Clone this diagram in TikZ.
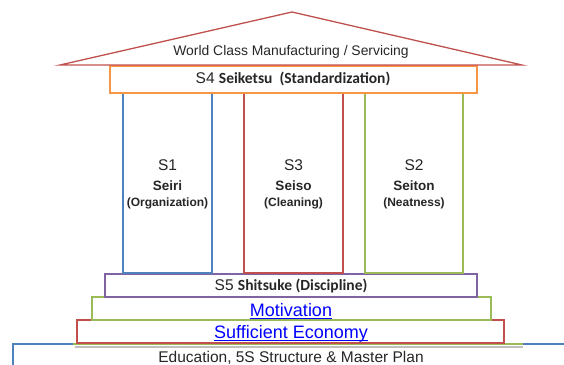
\documentclass[tikz,border=0pt]{standalone}
\usepackage{fontspec}
\setmainfont{Liberation Sans}
\newfontfamily\calib{Carlito}
\definecolor{roofred}{HTML}{C0504D}
\definecolor{orng}{HTML}{F79646}
\definecolor{blu}{HTML}{4F81BD}
\definecolor{grn}{HTML}{9BBB59}
\definecolor{purp}{HTML}{8064A2}
\definecolor{linkblue}{HTML}{0000FF}
\begin{document}
\begin{tikzpicture}[x=1pt,y=-1pt,
  box/.style={line width=1.3pt,fill=white},
  txt/.style={inner sep=0pt,text=black!85},
  snum/.style={txt,font=\fontsize{15.5}{15.5}\selectfont},
  sname/.style={txt,font=\fontsize{13.5}{13.5}\selectfont\bfseries},
  smean/.style={txt,font=\fontsize{12}{12}\selectfont\bfseries},
  link/.style={inner sep=0pt,anchor=base,font=\fontsize{18}{18}\selectfont,text=linkblue},
  uline/.style={linkblue,line width=1.1pt}]
\useasboundingbox (0,0) rectangle (564,364);
% base
\draw[blu,line width=1.3pt] (13,370) -- (13,344) -- (570,344);
\draw[gray!50,line width=2pt] (75,346.5) -- (523,346.5);
\draw[grn,line width=1.3pt] (73,344) -- (523,344);
\node[txt,font=\fontsize{15.5}{15.5}\selectfont] (edu) at (291,357.5) {Education, 5S Structure \& Master Plan};
% steps
\draw[box,draw=roofred] (77,320) rectangle (504,343);
\node[link] (suf) at (291,338) {Sufficient Economy};
\draw[uline] ([yshift=-2.5pt]suf.base west) -- ([yshift=-2.5pt]suf.base east);
\draw[box,draw=grn] (92,297) rectangle (491,320);
\node[link] (mot) at (291,316) {Motivation};
\draw[uline] ([yshift=-2.5pt]mot.base west) -- ([yshift=-2.5pt]mot.base east);
\draw[box,draw=purp] (105,274) rectangle (477,297);
\node[txt,font=\fontsize{15.5}{15.5}\selectfont] (s5) at (291,286) {S5 {\calib\bfseries Shitsuke (Discipline)}};
% pillars
\draw[box,draw=blu] (123,93) rectangle (212,273);
\draw[box,draw=roofred] (244,93) rectangle (343,273);
\draw[box,draw=grn] (365,93) rectangle (463,273);
\node[snum] (n1) at (167.5,165) {S1};
\node[sname] (m1) at (167.5,185.5) {Seiri};
\node[smean] (o1) at (167.5,203) {(Organization)};
\node[snum] (n3) at (293.5,165) {S3};
\node[sname] (m3) at (293.5,185.5) {Seiso};
\node[smean] (o3) at (293.5,203) {(Cleaning)};
\node[snum] (n2) at (414,165) {S2};
\node[sname] (m2) at (414,185.5) {Seiton};
\node[smean] (o2) at (414,203) {(Neatness)};
% S4
\draw[box,draw=orng] (110,66) rectangle (477,93);
\node[txt,font=\fontsize{15.5}{15.5}\selectfont] (s4) at (293,79) {S4 {\calib\bfseries Seiketsu\ \ (Standardization)}};
% roof
\draw[roofred,line width=1.3pt,line join=miter] (60,65) -- (292,12) -- (522,65) -- cycle;
\node[txt,font=\fontsize{13.9}{13.9}\selectfont] (roof) at (291,52) {World Class Manufacturing / Servicing};
\end{tikzpicture}
\end{document}
